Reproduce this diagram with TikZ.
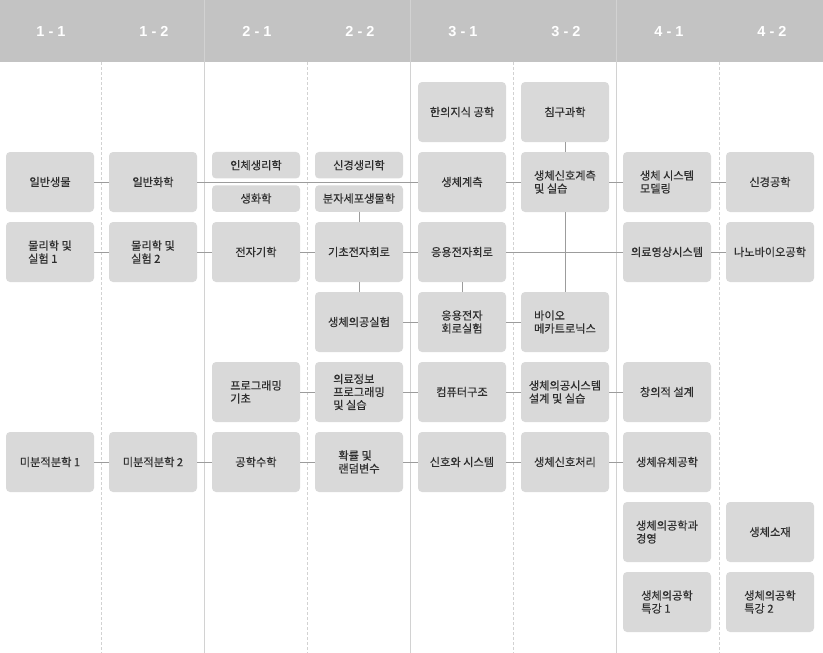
\documentclass[tikz,border=0pt]{standalone}
\usepackage{fontspec}
\setmainfont{Noto Sans CJK KR}[FakeBold=0.4]
\newfontfamily\headfont{Liberation Sans}
\usetikzlibrary{positioning}
\definecolor{headgray}{HTML}{C3C3C3}
\definecolor{boxgray}{HTML}{D9D9D9}
\definecolor{textgray}{HTML}{2E2E2E}
\definecolor{linegray}{HTML}{9C9C9C}
\definecolor{colgray}{HTML}{D2D2D2}

\begin{document}
\begin{tikzpicture} [x=1pt,y=-1pt,
  course/.style={rectangle,rounded corners=4pt,fill=boxgray,text=textgray,minimum width=88pt,minimum height=60pt,inner sep=2pt,align=left,font=\fontsize{11.2}{13}\selectfont},
  halfcourse/.style={course,minimum height=26.5pt},
  term/.style={text=white,anchor=base,font=\headfont\bfseries\fontsize{14.5}{16}\selectfont},
  link/.style={draw=linegray,line width=1pt}]

\useasboundingbox (0,0) rectangle (823,653);
\fill[headgray] (0,0) rectangle (823,62);

% semester columns
\foreach \x in {101.5,307,513,719}
  \draw[colgray,line width=1pt,dash pattern=on 3pt off 2pt] (\x,62) -- (\x,653);
\foreach \x in {204.5,410,616.5}
  \draw[colgray,line width=1pt] (\x,0) -- (\x,653);

\foreach \s [count=\i from 0] in {1 - 1,1 - 2,2 - 1,2 - 2,3 - 1,3 - 2,4 - 1,4 - 2}
  \node[term] (T\i) at ({51+103*\i},36) {\s};

% 1-1
\node[course] (A1) at (50,182) {일반생물};
\node[course] (A2) at (50,252) {물리학 및\\실험 1};
\node[course] (A5) at (50,462) {미분적분학 1};
% 1-2
\node[course] (B1) at (153,182) {일반화학};
\node[course] (B2) at (153,252) {물리학 및\\실험 2};
\node[course] (B5) at (153,462) {미분적분학 2};
% 2-1
\node[halfcourse] (C1a) at (256,165.2) {인체생리학};
\node[halfcourse] (C1b) at (256,198.5) {생화학};
\node[course] (C2) at (256,252) {전자기학};
\node[course] (C4) at (256,392) {프로그래밍\\기초};
\node[course] (C5) at (256,462) {공학수학};
% 2-2
\node[halfcourse] (D1a) at (359,165.2) {신경생리학};
\node[halfcourse] (D1b) at (359,198.5) {분자세포생물학};
\node[course] (D2) at (359,252) {기초전자회로};
\node[course] (D3) at (359,322) {생체의공실험};
\node[course] (D4) at (359,392) {의료정보\\프로그래밍\\및 실습};
\node[course] (D5) at (359,462) {확률 및\\랜덤변수};
% 3-1
\node[course] (E0) at (462,112) {한의지식 공학};
\node[course] (E1) at (462,182) {생체계측};
\node[course] (E2) at (462,252) {응용전자회로};
\node[course,align=center] (E3) at (462,322) {응용전자\\회로실험};
\node[course] (E4) at (462,392) {컴퓨터구조};
\node[course] (E5) at (462,462) {신호와 시스템};
% 3-2
\node[course] (F0) at (565,112) {침구과학};
\node[course] (F1) at (565,182) {생체신호계측\\및 실습};
\node[course] (F3) at (565,322) {바이오\\메카트로닉스};
\node[course] (F4) at (565,392) {생체의공시스템\\설계 및 실습};
\node[course] (F5) at (565,462) {생체신호처리};
% 4-1
\node[course] (G1) at (667,182) {생체 시스템\\모델링};
\node[course] (G2) at (667,252) {의료영상시스템};
\node[course] (G4) at (667,392) {창의적 설계};
\node[course] (G5) at (667,462) {생체유체공학};
\node[course] (G6) at (667,532) {생체의공학과\\경영};
\node[course] (G7) at (667,602) {생체의공학\\특강 1};
% 4-2
\node[course] (H1) at (770,182) {신경공학};
\node[course] (H2) at (770,252) {나노바이오공학};
\node[course] (H6) at (770,532) {생체소재};
\node[course] (H7) at (770,602) {생체의공학\\특강 2};

\foreach \from/\to in {A1/B1,B1/E1,E1/F1,F1/G1,G1/H1,
    A2/B2,B2/C2,C2/D2,D2/E2,E2/G2,G2/H2,
    D3/E3,E3/F3,
    C4/D4,D4/E4,E4/F4,F4/G4,
    A5/B5,B5/C5,C5/D5,D5/E5,E5/F5,F5/G5,
    F0/F1,F1/F3,D1b/D2,D2/D3,E2/E3}
\draw [link] (\from) -- (\to);
\end{tikzpicture}
\end{document}
